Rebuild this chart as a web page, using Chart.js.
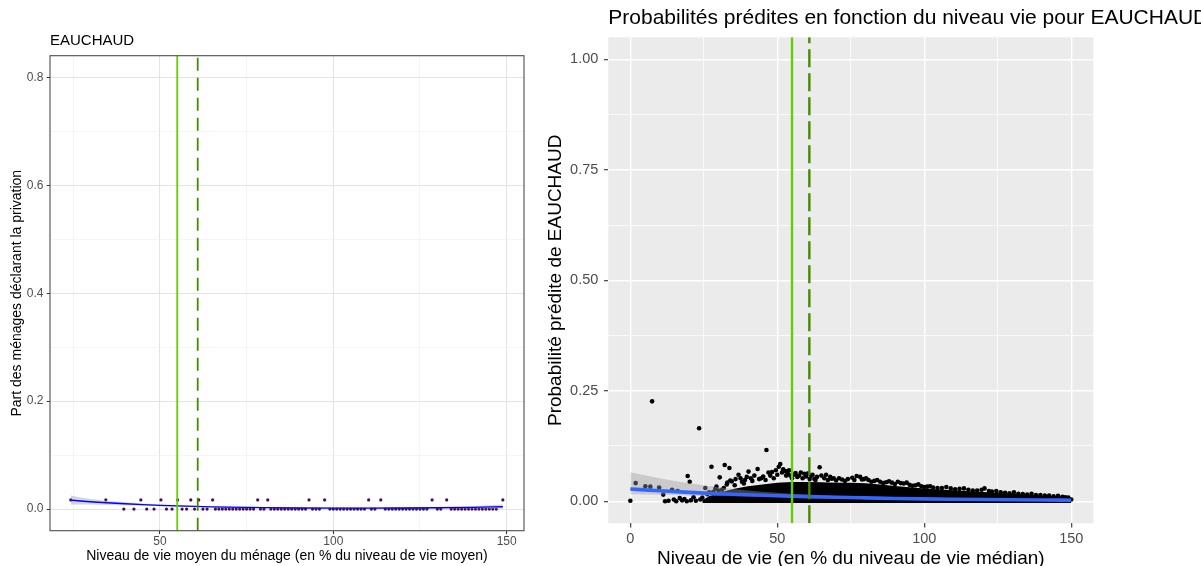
<!DOCTYPE html>
<html><head><meta charset="utf-8">
<script src="https://cdn.jsdelivr.net/npm/chart.js@4.4.1/dist/chart.umd.min.js"></script>
<style>
html,body{margin:0;padding:0;background:#fff;width:1201px;height:566px;overflow:hidden}
#c1{position:absolute;left:0;top:0;width:540px;height:566px}
#c2{position:absolute;left:540px;top:0;width:661px;height:566px}
</style></head><body>
<canvas id="c1" width="540" height="566"></canvas>
<canvas id="c2" width="661" height="566"></canvas>
<script>
// ================= LEFT PANEL DATA =================
const leftTitle = 'EAUCHAUD';
const leftXTitle = 'Niveau de vie moyen du ménage (en % du niveau de vie moyen)';
const leftYTitle = 'Part des ménages déclarant la privation';
const leftXRange = [18.3, 155];
const leftYRange = [-0.04, 0.84];
const leftXTickValues = [50, 100, 150];
const leftXTickLabels = ['50', '100', '150'];
const leftXMinorTicks = [25, 75, 125];
const leftYTickValues = [0, 0.2, 0.4, 0.6, 0.8];
const leftYTickLabels = ['0.0', '0.2', '0.4', '0.6', '0.8'];
const leftYMinorTicks = [0.1, 0.3, 0.5, 0.7];

const leftHighX = [24.3, 34.4, 44.5, 50.3, 55.1, 58.9, 61.2, 65.2, 78.2, 81.1, 93.0, 97.5, 110.2, 113.7, 128.5, 132.7, 148.9];
const leftHighShare = [0.017, 0.017, 0.017, 0.017, 0.017, 0.017, 0.017, 0.017, 0.017, 0.017, 0.017, 0.017, 0.017, 0.017, 0.017, 0.017, 0.017];
const leftZeroX = [39.6, 42.5, 46.2, 48.3, 51.9, 53.5, 56.4, 57.7, 60.0, 62.4, 63.6,
  66, 67, 68, 69, 70, 71, 72, 73, 74, 75, 76, 77, 79, 80,
  82, 83, 84, 85, 86, 87, 88, 89, 90, 91, 92, 94, 95, 96,
  99, 100, 101, 102, 103, 104, 105, 106, 107, 108, 109, 111, 112,
  115, 116, 117, 118, 119, 120, 121, 122, 123, 124, 125, 126, 127, 130, 131,
  134, 135, 136, 137, 138, 139, 140, 141, 142, 143, 144, 145, 146, 147];
const leftZeroShare = [0, 0, 0, 0, 0, 0, 0, 0, 0, 0, 0,
  0, 0, 0, 0, 0, 0, 0, 0, 0, 0, 0, 0, 0, 0,
  0, 0, 0, 0, 0, 0, 0, 0, 0, 0, 0, 0, 0, 0,
  0, 0, 0, 0, 0, 0, 0, 0, 0, 0, 0, 0, 0,
  0, 0, 0, 0, 0, 0, 0, 0, 0, 0, 0, 0, 0, 0, 0,
  0, 0, 0, 0, 0, 0, 0, 0, 0, 0, 0, 0, 0, 0];

const leftSmoothX = [24.3, 28, 32, 36, 40, 45, 50, 55, 60, 65, 70, 80, 90, 100, 110, 120, 130, 140, 148.9];
const leftSmoothY = [0.0165, 0.0146, 0.0128, 0.0112, 0.0098, 0.0083, 0.0070, 0.0059, 0.0050, 0.0042, 0.0036, 0.0027, 0.0021, 0.0018, 0.0018, 0.0020, 0.0025, 0.0033, 0.0045];
const leftSmoothLow = [0.0080, 0.0084, 0.0083, 0.0078, 0.0071, 0.0062, 0.0053, 0.0044, 0.0037, 0.0030, 0.0025, 0.0017, 0.0011, 0.0008, 0.0008, 0.0009, 0.0011, 0.0011, 0.0005];
const leftSmoothHigh = [0.0250, 0.0208, 0.0173, 0.0146, 0.0125, 0.0104, 0.0087, 0.0074, 0.0063, 0.0054, 0.0047, 0.0037, 0.0031, 0.0028, 0.0028, 0.0031, 0.0039, 0.0055, 0.0085];

const thresholdSolid = 55.0;
const thresholdDashed = 60.9;

// ================= RIGHT PANEL DATA =================
const rightTitle = 'Probabilités prédites en fonction du niveau vie pour EAUCHAUD';
const rightXTitle = 'Niveau de vie (en % du niveau de vie médian)';
const rightYTitle = 'Probabilité prédite de EAUCHAUD';
const rightXRange = [-7.5, 157.5];
const rightYRange = [-0.05, 1.05];
const rightXTickValues = [0, 50, 100, 150];
const rightXTickLabels = ['0', '50', '100', '150'];
const rightXMinorTicks = [25, 75, 125];
const rightYTickValues = [0, 0.25, 0.5, 0.75, 1];
const rightYTickLabels = ['0.00', '0.25', '0.50', '0.75', '1.00'];
const rightYMinorTicks = [0.125, 0.375, 0.625, 0.875];

const rightPtX = [0, 1.8, 5.1, 6.8, 7.4, 9.8, 11.2, 11.8, 13.0, 14.2, 14.8, 15.6, 16.1, 16.8, 17.6, 18.4, 19.2, 19.5, 20.2, 20.6,
  21.5, 22.3, 23.4, 23.8, 24.5, 25.5, 26.2, 27.6, 28.2, 28.9, 30.4, 31.2, 32.1, 32.8, 33.7, 34.5, 35.5, 36.8, 38.0, 39.0,
  40.2, 41.5, 43.3, 44.5, 46.3, 47.0, 48.2, 49.5, 50.5, 51.0, 52.0, 52.8, 53.6, 54.4, 55.6, 56.8, 58.0, 59.2, 60.5, 61.6,
  62.6, 63.5, 64.4, 66.0, 67.2, 68.5, 70.0, 72.0, 74.0, 75.5, 77.0, 78.2, 79.5, 81.0, 83.0, 85.0, 87.0, 89.0, 91.0, 93.0,
  95.0, 97.0, 99.0, 101.0, 103.0, 106.0, 109.0, 112.0, 115.0, 118.0, 120.5, 123.0, 126.0, 129.0, 132.0, 135.0, 138.0, 141.0, 144.0, 147.0,
  149.0, 150.0];
const rightPtY = [0.001, 0.041, 0.034, 0.033, 0.226, 0.031, 0.015, 0.000, 0.001, 0.026, 0.004, 0.000, 0.023, 0.007, 0.002, 0.005, 0.000, 0.057, 0.044, 0.002,
  0.009, 0.001, 0.165, 0.004, 0.008, 0.030, 0.016, 0.078, 0.021, 0.028, 0.054, 0.026, 0.082, 0.038, 0.075, 0.045, 0.036, 0.060, 0.044, 0.048,
  0.067, 0.046, 0.073, 0.052, 0.116, 0.065, 0.066, 0.070, 0.078, 0.084, 0.072, 0.068, 0.062, 0.058, 0.060, 0.055, 0.065, 0.062, 0.063, 0.058,
  0.050, 0.055, 0.077, 0.052, 0.048, 0.051, 0.047, 0.049, 0.050, 0.053, 0.057, 0.055, 0.050, 0.048, 0.046, 0.044, 0.043, 0.042, 0.044, 0.040,
  0.037, 0.036, 0.034, 0.033, 0.031, 0.030, 0.029, 0.028, 0.026, 0.024, 0.029, 0.022, 0.020, 0.018, 0.017, 0.015, 0.014, 0.013, 0.011, 0.010,
  0.008, 0.004];
// points along the ragged upper edge of the dense cloud
const rightEdgeX = [26.8, 29.3, 30.0, 31.8, 33.0, 34.0, 35.8, 37.5, 38.6, 39.6, 41.0, 42.2, 43.8, 45.2, 46.0, 47.6, 48.8, 50.0, 51.6, 53.0,
  54.0, 55.0, 56.2, 57.4, 58.6, 59.8, 61.0, 62.0, 63.0, 65.0, 66.6, 68.0, 69.2, 71.0, 73.0, 76.2, 78.8, 80.2, 82.0, 84.0,
  86.0, 88.0, 90.0, 92.0, 94.0, 96.0, 98.0, 100.0, 102.0, 104.5, 107.5, 110.5, 113.5, 116.5, 119.5, 122.0, 124.5, 127.5, 130.5, 133.5,
  136.5, 139.5, 142.5, 145.5, 148.0];
const rightEdgeY = [0.020, 0.033, 0.024, 0.030, 0.042, 0.047, 0.050, 0.052, 0.040, 0.055, 0.052, 0.058, 0.050, 0.056, 0.048, 0.058, 0.052, 0.060, 0.065, 0.058,
  0.070, 0.052, 0.064, 0.058, 0.052, 0.056, 0.050, 0.060, 0.048, 0.058, 0.060, 0.055, 0.052, 0.052, 0.046, 0.048, 0.049, 0.052, 0.044, 0.048,
  0.041, 0.045, 0.039, 0.041, 0.042, 0.035, 0.038, 0.032, 0.034, 0.030, 0.032, 0.027, 0.029, 0.024, 0.026, 0.023, 0.023, 0.019, 0.020, 0.016,
  0.017, 0.014, 0.013, 0.012, 0.009];

// dense core of the point cloud (upper edge), filled down to its lower edge
const rightBandX = [24.5, 27, 30, 35, 40, 45, 50, 55, 60, 65, 70, 75, 80, 85, 90, 95, 100, 105, 110, 115, 120, 125, 130, 135, 140, 145, 150];
const rightBandTop = [0.0, 0.010, 0.017, 0.026, 0.032, 0.036, 0.040, 0.042, 0.042, 0.041, 0.040, 0.040, 0.039, 0.036, 0.033, 0.030, 0.027, 0.025, 0.023, 0.021, 0.019, 0.017, 0.015, 0.013, 0.011, 0.009, 0.005];
const rightBandBottom = -0.004;

const rightSmoothX = [0, 10, 20, 30, 40, 50, 60, 70, 80, 90, 100, 110, 120, 130, 140, 150];
const rightSmoothY = [0.0275, 0.0235, 0.0200, 0.0170, 0.0145, 0.0123, 0.0104, 0.0088, 0.0075, 0.0063, 0.0053, 0.0045, 0.0038, 0.0032, 0.0027, 0.0023];
const rightSmoothHigh = [0.0655, 0.0520, 0.0405, 0.0315, 0.0245, 0.0190, 0.0150, 0.0120, 0.0097, 0.0080, 0.0066, 0.0056, 0.0049, 0.0043, 0.0039, 0.0036];
const rightSmoothLow = [0.0160, 0.0145, 0.0130, 0.0118, 0.0106, 0.0094, 0.0082, 0.0071, 0.0061, 0.0052, 0.0044, 0.0036, 0.0029, 0.0023, 0.0017, 0.0011];

// ================= HELPERS =================
Chart.defaults.font.family = "'Liberation Sans', Arial, Helvetica, sans-serif";
Chart.defaults.color = '#000';
const xy = (xs, ys) => xs.map((x, i) => ({x: x, y: ys[i]}));
const vline = (x, range) => [{x: x, y: range[0]}, {x: x, y: range[1]}];
const isIn = (list, v) => list.some(m => Math.abs(m - v) < 1e-9);
const setTicks = (major, minor) => (s) => {
  s.ticks = major.concat(minor).sort((a, b) => a - b).map(v => ({value: v}));
};
const labelFor = (major, labels) => (v) => {
  const i = major.findIndex(m => Math.abs(m - v) < 1e-9);
  return i >= 0 ? labels[i] : '';
};

const titlePlugin = {
  id: 'panelTitle',
  afterDraw(chart, args, opts) {
    if (!opts || !opts.text) return;
    const ctx = chart.ctx;
    ctx.save();
    ctx.font = opts.font;
    ctx.fillStyle = opts.color || '#000';
    ctx.textAlign = 'left';
    ctx.textBaseline = 'middle';
    ctx.fillText(opts.text, chart.chartArea.left, opts.y);
    ctx.restore();
  }
};
const panelPlugin = {
  id: 'panelBox',
  beforeDraw(chart, args, opts) {
    if (!opts || !opts.background) return;
    const a = chart.chartArea, ctx = chart.ctx;
    ctx.save();
    ctx.fillStyle = opts.background;
    ctx.fillRect(a.left, a.top, a.right - a.left, a.bottom - a.top);
    ctx.restore();
  },
  afterDraw(chart, args, opts) {
    if (!opts || !opts.border) return;
    const a = chart.chartArea, ctx = chart.ctx;
    ctx.save();
    ctx.strokeStyle = opts.border;
    ctx.lineWidth = opts.borderWidth || 1;
    ctx.strokeRect(a.left, a.top, a.right - a.left, a.bottom - a.top);
    ctx.restore();
  }
};

// ================= LEFT CHART =================
new Chart(document.getElementById('c1'), {
  type: 'scatter',
  plugins: [panelPlugin, titlePlugin],
  data: {
    datasets: [
      {type: 'line', data: vline(thresholdSolid, leftYRange), borderColor: '#66cd00', borderWidth: 1.8, pointRadius: 0, order: 0},
      {type: 'line', data: vline(thresholdDashed, leftYRange), borderColor: '#458b00', borderWidth: 1.8, borderDash: [13, 7], pointRadius: 0, order: 1},
      {type: 'line', data: xy(leftSmoothX, leftSmoothY), borderColor: '#0000ff', borderWidth: 1.4, pointRadius: 0, cubicInterpolationMode: 'monotone', order: 2},
      {type: 'line', data: xy(leftSmoothX, leftSmoothHigh), borderWidth: 0, pointRadius: 0, fill: 4, backgroundColor: 'rgba(153,153,153,0.4)', cubicInterpolationMode: 'monotone', order: 3},
      {type: 'line', data: xy(leftSmoothX, leftSmoothLow), borderWidth: 0, borderColor: 'rgba(0,0,0,0)', pointRadius: 0, cubicInterpolationMode: 'monotone', order: 4},
      {data: xy(leftHighX, leftHighShare), pointRadius: 1.6, pointBorderWidth: 0, pointBackgroundColor: '#440f52', order: 5},
      {data: xy(leftZeroX, leftZeroShare), pointRadius: 1.6, pointBorderWidth: 0, pointBackgroundColor: '#440f52', order: 6}
    ]
  },
  options: {
    responsive: false,
    devicePixelRatio: 1,
    animation: false,
    events: [],
    layout: {padding: {left: 0, right: 16, top: 55.7, bottom: 0}},
    plugins: {
      legend: {display: false},
      tooltip: {enabled: false},
      panelTitle: {text: leftTitle, y: 41, font: "15px 'Liberation Sans', Arial, sans-serif", color: '#000'},
      panelBox: {border: '#4d4d4d', borderWidth: 1.1}
    },
    scales: {
      x: {
        type: 'linear', min: leftXRange[0], max: leftXRange[1], bounds: 'data',
        afterBuildTicks: setTicks(leftXTickValues, leftXMinorTicks),
        afterFit: s => { s.height = 35.3; },
        border: {display: false},
        grid: {
          color: c => isIn(leftXTickValues, c.tick.value) ? '#e3e3e3' : '#efefef',
          lineWidth: c => isIn(leftXTickValues, c.tick.value) ? 1 : 0.6,
          tickColor: c => isIn(leftXTickValues, c.tick.value) ? '#333333' : 'rgba(0,0,0,0)',
          tickWidth: 1, tickLength: 3.3
        },
        ticks: {autoSkip: false, maxRotation: 0, color: '#4d4d4d', font: {size: 12}, padding: 0.4,
          callback: labelFor(leftXTickValues, leftXTickLabels)},
        title: {display: true, text: leftXTitle, color: '#000', font: {size: 14}, padding: {top: 0, bottom: 1.6}}
      },
      y: {
        type: 'linear', min: leftYRange[0], max: leftYRange[1], bounds: 'data',
        afterBuildTicks: setTicks(leftYTickValues, leftYMinorTicks),
        afterFit: s => { s.width = 50; },
        border: {display: false},
        grid: {
          color: c => isIn(leftYTickValues, c.tick.value) ? '#e3e3e3' : '#efefef',
          lineWidth: c => isIn(leftYTickValues, c.tick.value) ? 1 : 0.6,
          tickColor: c => isIn(leftYTickValues, c.tick.value) ? '#333333' : 'rgba(0,0,0,0)',
          tickWidth: 1, tickLength: 3.3
        },
        ticks: {autoSkip: false, color: '#4d4d4d', font: {size: 12}, padding: 3.2,
          callback: labelFor(leftYTickValues, leftYTickLabels)},
        title: {display: true, text: leftYTitle, color: '#000', font: {size: 14}, padding: {top: 8.6, bottom: 0}}
      }
    }
  }
});

// ================= RIGHT CHART =================
new Chart(document.getElementById('c2'), {
  type: 'scatter',
  plugins: [panelPlugin, titlePlugin],
  data: {
    datasets: [
      {type: 'line', data: vline(thresholdSolid, rightYRange), borderColor: '#66cd00', borderWidth: 2.4, pointRadius: 0, order: 0},
      {type: 'line', data: vline(thresholdDashed, rightYRange), borderColor: '#458b00', borderWidth: 2.4, borderDash: [18, 6], pointRadius: 0, order: 1},
      {type: 'line', data: xy(rightSmoothX, rightSmoothY), borderColor: '#3366ff', borderWidth: 3.6, pointRadius: 0, cubicInterpolationMode: 'monotone', order: 2},
      {type: 'line', data: xy(rightSmoothX, rightSmoothHigh), borderWidth: 0, pointRadius: 0, fill: 4, backgroundColor: 'rgba(153,153,153,0.4)', cubicInterpolationMode: 'monotone', order: 3},
      {type: 'line', data: xy(rightSmoothX, rightSmoothLow), borderWidth: 0, borderColor: 'rgba(0,0,0,0)', pointRadius: 0, cubicInterpolationMode: 'monotone', order: 4},
      {data: xy(rightPtX, rightPtY), pointRadius: 2.3, pointBorderWidth: 0, pointBackgroundColor: '#000', order: 5},
      {data: xy(rightEdgeX, rightEdgeY), pointRadius: 2.3, pointBorderWidth: 0, pointBackgroundColor: '#000', order: 6},
      {type: 'line', data: xy(rightBandX, rightBandTop), borderColor: '#000', borderWidth: 1.5, pointRadius: 0, fill: {value: rightBandBottom}, backgroundColor: '#000', order: 7}
    ]
  },
  options: {
    responsive: false,
    devicePixelRatio: 1,
    animation: false,
    events: [],
    layout: {padding: {left: 0, right: 107.7, top: 37.3, bottom: 0}},
    plugins: {
      legend: {display: false},
      tooltip: {enabled: false},
      panelTitle: {text: rightTitle, y: 18, font: "21px 'Liberation Sans', Arial, sans-serif", color: '#000'},
      panelBox: {background: '#ebebeb'}
    },
    scales: {
      x: {
        type: 'linear', min: rightXRange[0], max: rightXRange[1], bounds: 'data',
        afterBuildTicks: setTicks(rightXTickValues, rightXMinorTicks),
        afterFit: s => { s.height = 42.7; },
        border: {display: false},
        grid: {
          color: '#ffffff',
          lineWidth: c => isIn(rightXTickValues, c.tick.value) ? 1.4 : 0.7,
          tickColor: c => isIn(rightXTickValues, c.tick.value) ? '#333333' : 'rgba(0,0,0,0)',
          tickWidth: 1.1, tickLength: 4.3
        },
        ticks: {autoSkip: false, maxRotation: 0, color: '#4d4d4d', font: {size: 14.5}, padding: 2.2,
          callback: labelFor(rightXTickValues, rightXTickLabels)},
        title: {display: true, text: rightXTitle, color: '#000', font: {size: 19}, padding: {top: 0, bottom: -4}}
      },
      y: {
        type: 'linear', min: rightYRange[0], max: rightYRange[1], bounds: 'data',
        afterBuildTicks: setTicks(rightYTickValues, rightYMinorTicks),
        afterFit: s => { s.width = 68.3; },
        border: {display: false},
        grid: {
          color: '#ffffff',
          lineWidth: c => isIn(rightYTickValues, c.tick.value) ? 1.4 : 0.7,
          tickColor: c => isIn(rightYTickValues, c.tick.value) ? '#333333' : 'rgba(0,0,0,0)',
          tickWidth: 1.1, tickLength: 4.3
        },
        ticks: {autoSkip: false, color: '#4d4d4d', font: {size: 14.5}, padding: 5.7,
          callback: labelFor(rightYTickValues, rightYTickLabels)},
        title: {display: true, text: rightYTitle, color: '#000', font: {size: 19}, padding: {top: 4.6, bottom: 0}}
      }
    }
  }
});
</script>
</body></html>
